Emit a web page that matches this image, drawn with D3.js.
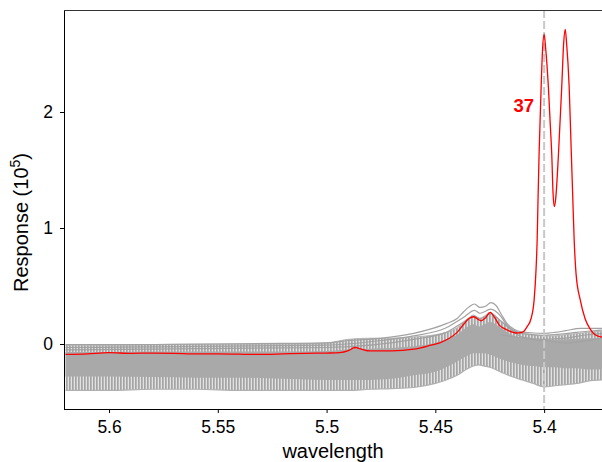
<!DOCTYPE html>
<html>
<head>
<meta charset="utf-8">
<script src="https://cdn.jsdelivr.net/npm/d3@7"></script>
<style>
  html, body { margin: 0; padding: 0; background: #fff; }
  svg { display: block; font-family: "Liberation Sans", Arial, Helvetica, sans-serif; }
</style>
</head>
<body>
<svg id="chart" width="602" height="462"></svg>
<script>
// ---------- data ----------
const xTicks = [5.6, 5.55, 5.5, 5.45, 5.4];
const yTicks = [0, 1, 2];
const markerWavelength = 5.40;
const markerLabel = "37";

// highlighted series (red)
const redWave = [5.620, 5.610, 5.600, 5.590, 5.580, 5.570, 5.560, 5.550, 5.540, 5.530, 5.520, 5.510, 5.500, 5.494,
  5.490, 5.487, 5.484, 5.480, 5.470, 5.460, 5.452, 5.448, 5.444, 5.440, 5.437, 5.4345, 5.4325, 5.4305, 5.4290,
  5.4270, 5.4248, 5.4225, 5.4205, 5.4180, 5.4150, 5.4129, 5.4101, 5.4078, 5.4060, 5.4046, 5.4037, 5.4032, 5.4028,
  5.4023, 5.4014, 5.4007, 5.4000, 5.3993, 5.3980, 5.3972, 5.3965, 5.3959, 5.3953, 5.3947, 5.3934, 5.3919, 5.3910,
  5.3903, 5.3897, 5.3885, 5.3876, 5.3869, 5.3862, 5.3853, 5.3834, 5.3812, 5.3789, 5.3766, 5.3734];
const redResp = [-0.090, -0.085, -0.075, -0.080, -0.078, -0.080, -0.085, -0.085, -0.088, -0.090, -0.085, -0.080, -0.078, -0.075,
  -0.058, -0.030, -0.045, -0.060, -0.060, -0.045, -0.010, 0.010, 0.045, 0.100, 0.170, 0.220, 0.235, 0.215, 0.200,
  0.225, 0.272, 0.220, 0.160, 0.130, 0.105, 0.095, 0.100, 0.150, 0.220, 0.380, 0.650, 0.900, 1.250,
  1.650, 2.200, 2.550, 2.672, 2.550, 2.200, 1.900, 1.640, 1.300, 1.184, 1.250, 1.640, 2.220, 2.600,
  2.713, 2.600, 2.220, 1.700, 1.300, 0.900, 0.600, 0.380, 0.220, 0.130, 0.080, 0.060];

// grey band (dense family of spectra) read on a common wavelength grid
const bandWave = [5.62, 5.60, 5.58, 5.56, 5.54, 5.52, 5.50, 5.49, 5.48, 5.47, 5.46, 5.45, 5.445, 5.44, 5.435,
  5.4325, 5.43, 5.4275, 5.425, 5.42, 5.415, 5.41, 5.405, 5.40, 5.395, 5.39, 5.385, 5.38, 5.3734];
const bandOuterTop = [-0.01, -0.01, -0.005, 0.0, 0.0, 0.0, 0.01, 0.04, 0.05, 0.05, 0.06, 0.08, 0.10, 0.14, 0.22,
  0.25, 0.22, 0.24, 0.27, 0.20, 0.13, 0.09, 0.08, 0.07, 0.07, 0.08, 0.09, 0.10, 0.11];
const bandCoreTop = [-0.07, -0.07, -0.065, -0.065, -0.065, -0.065, -0.06, -0.045, -0.04, -0.035, -0.02, 0.01, 0.04, 0.08, 0.15,
  0.17, 0.15, 0.17, 0.19, 0.14, 0.08, 0.05, 0.04, 0.035, 0.035, 0.04, 0.045, 0.05, 0.05];
const bandCoreBottom = [-0.28, -0.28, -0.285, -0.29, -0.29, -0.30, -0.31, -0.31, -0.31, -0.30, -0.27, -0.24, -0.20, -0.15, -0.10,
  -0.08, -0.08, -0.08, -0.09, -0.13, -0.16, -0.18, -0.19, -0.20, -0.20, -0.21, -0.21, -0.22, -0.22];
const bandOuterBottom = [-0.40, -0.40, -0.39, -0.39, -0.40, -0.40, -0.40, -0.40, -0.39, -0.385, -0.375, -0.34, -0.31, -0.27, -0.21,
  -0.19, -0.18, -0.19, -0.20, -0.24, -0.28, -0.31, -0.34, -0.37, -0.36, -0.35, -0.34, -0.32, -0.31];

// individual grey spectra standing above the band
const greyAWave = [5.62, 5.58, 5.55, 5.52, 5.50, 5.49, 5.4754, 5.46, 5.4447, 5.44, 5.437, 5.4345, 5.432, 5.4295, 5.427,
  5.4245, 5.422, 5.4195, 5.4171, 5.414, 5.411, 5.405, 5.40, 5.395, 5.39, 5.3834, 5.3734];
const greyAResp = [-0.005, -0.005, 0.0, 0.005, 0.01, 0.03, 0.049, 0.092, 0.178, 0.22, 0.278, 0.32, 0.345, 0.315, 0.325,
  0.356, 0.33, 0.25, 0.178, 0.13, 0.106, 0.095, 0.092, 0.10, 0.115, 0.135, 0.135];
const greyBWave = [5.62, 5.50, 5.475, 5.46, 5.445, 5.437, 5.432, 5.4295, 5.4245, 5.42, 5.417, 5.41, 5.40, 5.39, 5.38, 5.3734];
const greyBResp = [-0.03, -0.01, 0.03, 0.07, 0.14, 0.23, 0.29, 0.265, 0.30, 0.24, 0.16, 0.09, 0.075, 0.09, 0.11, 0.12];
const greyCWave = [5.62, 5.50, 5.46, 5.445, 5.437, 5.432, 5.4295, 5.4245, 5.42, 5.415, 5.41, 5.40, 5.39, 5.38, 5.3734];
const greyCResp = [-0.05, -0.03, 0.04, 0.10, 0.19, 0.24, 0.22, 0.26, 0.20, 0.12, 0.06, 0.04, 0.05, 0.08, 0.09];
const greyDWave = [5.42, 5.41, 5.40, 5.39, 5.38, 5.3734];
const greyDResp = [0.08, 0.05, 0.03, 0.01, 0.03, 0.05];

// ---------- layout ----------
const svg = d3.select("#chart");
const L = 64, R = 602, T = 10, B = 409;

const x = d3.scaleLinear().domain([5.6207, 5.3734]).range([L, R]);
const y = d3.scaleLinear().domain([-0.5603, 2.8793]).range([B, T]);

const defs = svg.append("defs");
defs.append("clipPath").attr("id", "plotclip")
  .append("rect").attr("x", L).attr("y", T).attr("width", R - L).attr("height", B - T);
const pat = defs.append("pattern").attr("id", "spikes")
  .attr("patternUnits", "userSpaceOnUse").attr("width", 3).attr("height", 8);
pat.append("rect").attr("width", 3).attr("height", 8).attr("fill", "#e2e2e2");
pat.append("rect").attr("x", 0).attr("width", 1.7).attr("height", 8).attr("fill", "#a4a4a4");

const plot = svg.append("g").attr("clip-path", "url(#plotclip)");

const zipBand = bandWave.map((w, i) => ({
  w, ot: bandOuterTop[i], ct: bandCoreTop[i], cb: bandCoreBottom[i], ob: bandOuterBottom[i]
}));

plot.append("path").datum(zipBand)
  .attr("fill", "url(#spikes)")
  .attr("d", d3.area().x(d => x(d.w)).y0(d => y(d.ob)).y1(d => y(d.ot)).curve(d3.curveMonotoneX));
plot.append("path").datum(zipBand)
  .attr("fill", "#a9a9a9")
  .attr("d", d3.area().x(d => x(d.w)).y0(d => y(d.cb)).y1(d => y(d.ct)).curve(d3.curveMonotoneX));

const lineGen = d3.line().x(d => x(d[0])).y(d => y(d[1])).curve(d3.curveMonotoneX);

plot.append("path")
  .attr("fill", "none").attr("stroke", "#b0b0b0").attr("stroke-width", 1.2)
  .attr("d", d3.line().x(d => x(d.w)).y(d => y(d.ob)).curve(d3.curveMonotoneX)(zipBand));
plot.append("path")
  .attr("fill", "none").attr("stroke", "#b4b4b4").attr("stroke-width", 1)
  .attr("d", d3.line().x(d => x(d.w)).y(d => y(d.ot)).curve(d3.curveMonotoneX)(zipBand));

const greys = [
  [greyAWave, greyAResp], [greyBWave, greyBResp], [greyCWave, greyCResp], [greyDWave, greyDResp]
];
greys.forEach(([ws, rs]) => {
  plot.append("path").datum(ws.map((w, i) => [w, rs[i]]))
    .attr("fill", "none").attr("stroke", "#a2a2a2").attr("stroke-width", 1.2)
    .attr("d", lineGen);
});

// dashed marker
plot.append("line")
  .attr("x1", x(markerWavelength)).attr("x2", x(markerWavelength))
  .attr("y1", T).attr("y2", B)
  .attr("stroke", "#c8c8c8").attr("stroke-width", 2).attr("stroke-dasharray", "8,3");

// red series
plot.append("path").datum(redWave.map((w, i) => [w, redResp[i]]))
  .attr("fill", "none").attr("stroke", "#ff0000").attr("stroke-width", 1.3)
  .attr("stroke-linejoin", "round")
  .attr("d", lineGen);

// label
svg.append("text")
  .attr("x", x(markerWavelength) - 10).attr("y", y(2))
  .attr("text-anchor", "end")
  .attr("fill", "#ff0000").attr("font-weight", "bold").attr("font-size", 18.5)
  .text(markerLabel);

// ---------- axes ----------
const xAxis = d3.axisBottom(x).tickValues(xTicks).tickFormat(d3.format("~g"))
  .tickSize(4).tickSizeOuter(0).tickPadding(8);
const gx = svg.append("g").attr("transform", `translate(0,${B})`).call(xAxis);
gx.select(".domain").attr("d", `M${L},0.5H${R}`).attr("stroke", "#000");
gx.selectAll("text").attr("font-size", 17.5).attr("fill", "#000");

const yAxis = d3.axisLeft(y).tickValues(yTicks).tickFormat(d3.format("~g"))
  .tickSize(4).tickSizeOuter(0).tickPadding(7);
const gy = svg.append("g").attr("transform", `translate(${L},0)`).call(yAxis);
gy.select(".domain").attr("d", `M0.5,${T}V${B}`).attr("stroke", "#000");
gy.selectAll("text").attr("font-size", 17.5).attr("fill", "#000");
svg.selectAll(".tick line").attr("stroke", "#000");
svg.selectAll("g").attr("font-family", null);

// top border
svg.append("line").attr("x1", L).attr("x2", R).attr("y1", T + 0.5).attr("y2", T + 0.5)
  .attr("stroke", "#333").attr("stroke-width", 1);

// titles
svg.append("text")
  .attr("x", (L + R) / 2).attr("y", 458)
  .attr("text-anchor", "middle").attr("font-size", 20).attr("fill", "#000")
  .text("wavelength");

const yt = svg.append("text")
  .attr("transform", "translate(28,292) rotate(-90)")
  .attr("text-anchor", "start").attr("font-size", 20).attr("fill", "#000");
yt.append("tspan").text("Response (10");
yt.append("tspan").attr("font-size", 14).attr("dy", -8).text("5");
yt.append("tspan").attr("dy", 8).text(")");
</script>
</body>
</html>
